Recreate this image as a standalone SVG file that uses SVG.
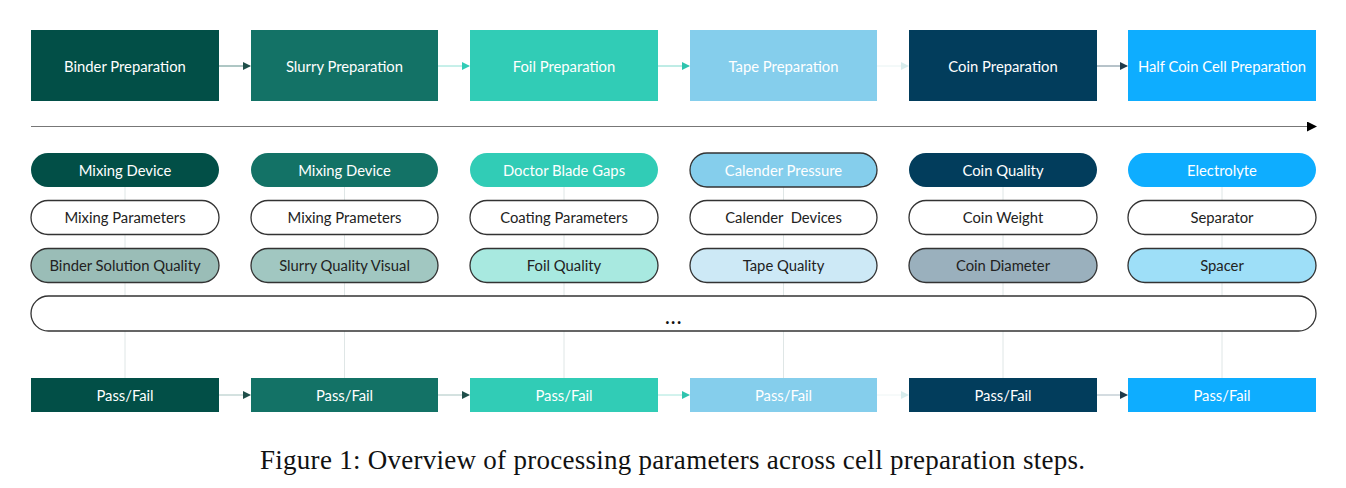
<svg xmlns="http://www.w3.org/2000/svg" width="1346" height="488" viewBox="0 0 1346 488">
<style>
text{font-family:Lato,"Liberation Sans",sans-serif;font-size:14.8px;text-anchor:middle;dominant-baseline:central}
.w{fill:#fff}
.d{fill:#222}
.pill{stroke:#333;stroke-width:1.3}
.vl{stroke:#dfe6e6;stroke-width:1}
.cap{font-family:"Liberation Serif",serif;font-size:27px;fill:#111;text-anchor:start;dominant-baseline:auto}
</style>
<defs>
<marker id="a1" markerWidth="8" markerHeight="8" refX="7" refY="4" orient="auto" markerUnits="userSpaceOnUse"><path d="M0,0L8,4L0,8z" fill="#1f4f4a"/></marker>
<marker id="a2" markerWidth="8" markerHeight="8" refX="7" refY="4" orient="auto" markerUnits="userSpaceOnUse"><path d="M0,0L8,4L0,8z" fill="#31ccb6"/></marker>
<marker id="a3" markerWidth="8" markerHeight="8" refX="7" refY="4" orient="auto" markerUnits="userSpaceOnUse"><path d="M0,0L8,4L0,8z" fill="#2ec4ae"/></marker>
<marker id="a4" markerWidth="8" markerHeight="8" refX="7" refY="4" orient="auto" markerUnits="userSpaceOnUse"><path d="M0,0L8,4L0,8z" fill="#d7ecec"/></marker>
<marker id="a5" markerWidth="8" markerHeight="8" refX="7" refY="4" orient="auto" markerUnits="userSpaceOnUse"><path d="M0,0L8,4L0,8z" fill="#1f3a4a"/></marker>
<marker id="ak" markerWidth="10" markerHeight="10" refX="9" refY="5" orient="auto" markerUnits="userSpaceOnUse"><path d="M0,0L10,5L0,10z" fill="#000"/></marker>
</defs>
<rect width="1346" height="488" fill="#fff"/>
<g id="connectors">
<line class="vl" x1="125" y1="187" x2="125" y2="378"/>
<line class="vl" x1="344.5" y1="187" x2="344.5" y2="378"/>
<line class="vl" x1="564" y1="187" x2="564" y2="378"/>
<line class="vl" x1="783.5" y1="187" x2="783.5" y2="378" stroke="#eef2f2"/>
<line class="vl" x1="1003" y1="187" x2="1003" y2="378" stroke="#d5dfe8"/>
<line class="vl" x1="1222" y1="187" x2="1222" y2="378" stroke="#d8eaf5"/>
<line x1="219" y1="66" x2="250" y2="66" stroke="#5e8f8a" marker-end="url(#a1)"/>
<line x1="438" y1="66" x2="469" y2="66" stroke="#8ee0d4" marker-end="url(#a2)"/>
<line x1="658" y1="66" x2="689" y2="66" stroke="#7fd9cc" marker-end="url(#a3)"/>
<line x1="877" y1="66" x2="908" y2="66" stroke="#e8f3f3" marker-end="url(#a4)"/>
<line x1="1097" y1="66" x2="1127" y2="66" stroke="#6f8794" marker-end="url(#a5)"/>
<line x1="219" y1="395" x2="250" y2="395" stroke="#a9c4c1" marker-end="url(#a1)"/>
<line x1="438" y1="395" x2="469" y2="395" stroke="#a9c4c1" marker-end="url(#a1)"/>
<line x1="658" y1="395" x2="689" y2="395" stroke="#a6e6dc" marker-end="url(#a3)"/>
<line x1="877" y1="395" x2="908" y2="395" stroke="#eef5f5" marker-end="url(#a4)"/>
<line x1="1097" y1="395" x2="1127" y2="395" stroke="#a9b9c2" marker-end="url(#a5)"/>
<line x1="31" y1="126.5" x2="1316" y2="126.5" stroke="#777" stroke-width="1" marker-end="url(#ak)"/>
</g>
<g id="top">
<g id="binder-prep"><rect x="31" y="30" width="188" height="71" fill="#024f47"/><text class="w" x="125" y="65.5">Binder Preparation</text></g>
<g id="slurry-prep"><rect x="251" y="30" width="187" height="71" fill="#137266"/><text class="w" x="344.5" y="65.5">Slurry Preparation</text></g>
<g id="foil-prep"><rect x="470" y="30" width="188" height="71" fill="#31ccb6"/><text class="w" x="564" y="65.5">Foil Preparation</text></g>
<g id="tape-prep"><rect x="690" y="30" width="187" height="71" fill="#85ceec"/><text class="w" x="783.5" y="65.5">Tape Preparation</text></g>
<g id="coin-prep"><rect x="909" y="30" width="188" height="71" fill="#023d5c"/><text class="w" x="1003" y="65.5">Coin Preparation</text></g>
<g id="half-prep"><rect x="1128" y="30" width="188" height="71" fill="#0eadff"/><text class="w" x="1222" y="65.5">Half Coin Cell Preparation</text></g>
</g>
<g id="row1">
<g id="r1c1"><rect x="31" y="153" width="188" height="34" rx="17" fill="#024f47"/><text class="w" x="125" y="169.5">Mixing Device</text></g>
<g id="r1c2"><rect x="251" y="153" width="187" height="34" rx="17" fill="#137266"/><text class="w" x="344.5" y="169.5">Mixing Device</text></g>
<g id="r1c3"><rect x="470" y="153" width="188" height="34" rx="17" fill="#31ccb6"/><text class="w" x="564" y="169.5">Doctor Blade Gaps</text></g>
<g id="r1c4"><rect x="690" y="153" width="187" height="34" rx="17" fill="#85ceec" class="pill"/><text class="w" x="783.5" y="169.5">Calender Pressure</text></g>
<g id="r1c5"><rect x="909" y="153" width="188" height="34" rx="17" fill="#023d5c"/><text class="w" x="1003" y="169.5">Coin Quality</text></g>
<g id="r1c6"><rect x="1128" y="153" width="188" height="34" rx="17" fill="#0eadff"/><text class="w" x="1222" y="169.5">Electrolyte</text></g>
</g>
<g id="row2">
<g id="r2c1"><rect x="31" y="200.5" width="188" height="34" rx="17" fill="#fff" class="pill"/><text class="d" x="125" y="217">Mixing Parameters</text></g>
<g id="r2c2"><rect x="251" y="200.5" width="187" height="34" rx="17" fill="#fff" class="pill"/><text class="d" x="344.5" y="217">Mixing Prameters</text></g>
<g id="r2c3"><rect x="470" y="200.5" width="188" height="34" rx="17" fill="#fff" class="pill"/><text class="d" x="564" y="217">Coating Parameters</text></g>
<g id="r2c4"><rect x="690" y="200.5" width="187" height="34" rx="17" fill="#fff" class="pill"/><text class="d" x="783.5" y="217" xml:space="preserve">Calender  Devices</text></g>
<g id="r2c5"><rect x="909" y="200.5" width="188" height="34" rx="17" fill="#fff" class="pill"/><text class="d" x="1003" y="217">Coin Weight</text></g>
<g id="r2c6"><rect x="1128" y="200.5" width="188" height="34" rx="17" fill="#fff" class="pill"/><text class="d" x="1222" y="217">Separator</text></g>
</g>
<g id="row3">
<g id="r3c1"><rect x="31" y="248.5" width="188" height="34" rx="17" fill="#9abdb7" class="pill"/><text class="d" x="125" y="265">Binder Solution Quality</text></g>
<g id="r3c2"><rect x="251" y="248.5" width="187" height="34" rx="17" fill="#a1c7c1" class="pill"/><text class="d" x="344.5" y="265">Slurry Quality Visual</text></g>
<g id="r3c3"><rect x="470" y="248.5" width="188" height="34" rx="17" fill="#a8e9e0" class="pill"/><text class="d" x="564" y="265">Foil Quality</text></g>
<g id="r3c4"><rect x="690" y="248.5" width="187" height="34" rx="17" fill="#cde9f6" class="pill"/><text class="d" x="783.5" y="265">Tape Quality</text></g>
<g id="r3c5"><rect x="909" y="248.5" width="188" height="34" rx="17" fill="#9ab0bd" class="pill"/><text class="d" x="1003" y="265">Coin Diameter</text></g>
<g id="r3c6"><rect x="1128" y="248.5" width="188" height="34" rx="17" fill="#9edff8" class="pill"/><text class="d" x="1222" y="265">Spacer</text></g>
</g>
<g id="more"><rect x="31" y="296" width="1285" height="35" rx="17.5" fill="#fff" class="pill"/><text x="674" y="317" style="font-size:18px;fill:#111;letter-spacing:1.5px;font-weight:bold">...</text></g>
<g id="bottom">
<g id="pf1"><rect x="31" y="378" width="188" height="34" fill="#024f47"/><text class="w" x="125" y="394.5">Pass/Fail</text></g>
<g id="pf2"><rect x="251" y="378" width="187" height="34" fill="#137266"/><text class="w" x="344.5" y="394.5">Pass/Fail</text></g>
<g id="pf3"><rect x="470" y="378" width="188" height="34" fill="#31ccb6"/><text class="w" x="564" y="394.5">Pass/Fail</text></g>
<g id="pf4"><rect x="690" y="378" width="187" height="34" fill="#85ceec"/><text class="w" x="783.5" y="394.5">Pass/Fail</text></g>
<g id="pf5"><rect x="909" y="378" width="188" height="34" fill="#023d5c"/><text class="w" x="1003" y="394.5">Pass/Fail</text></g>
<g id="pf6"><rect x="1128" y="378" width="188" height="34" fill="#0eadff"/><text class="w" x="1222" y="394.5">Pass/Fail</text></g>
</g>
<text class="cap" x="260" y="469" textLength="825" lengthAdjust="spacing">Figure 1: Overview of processing parameters across cell preparation steps.</text>
</svg>
